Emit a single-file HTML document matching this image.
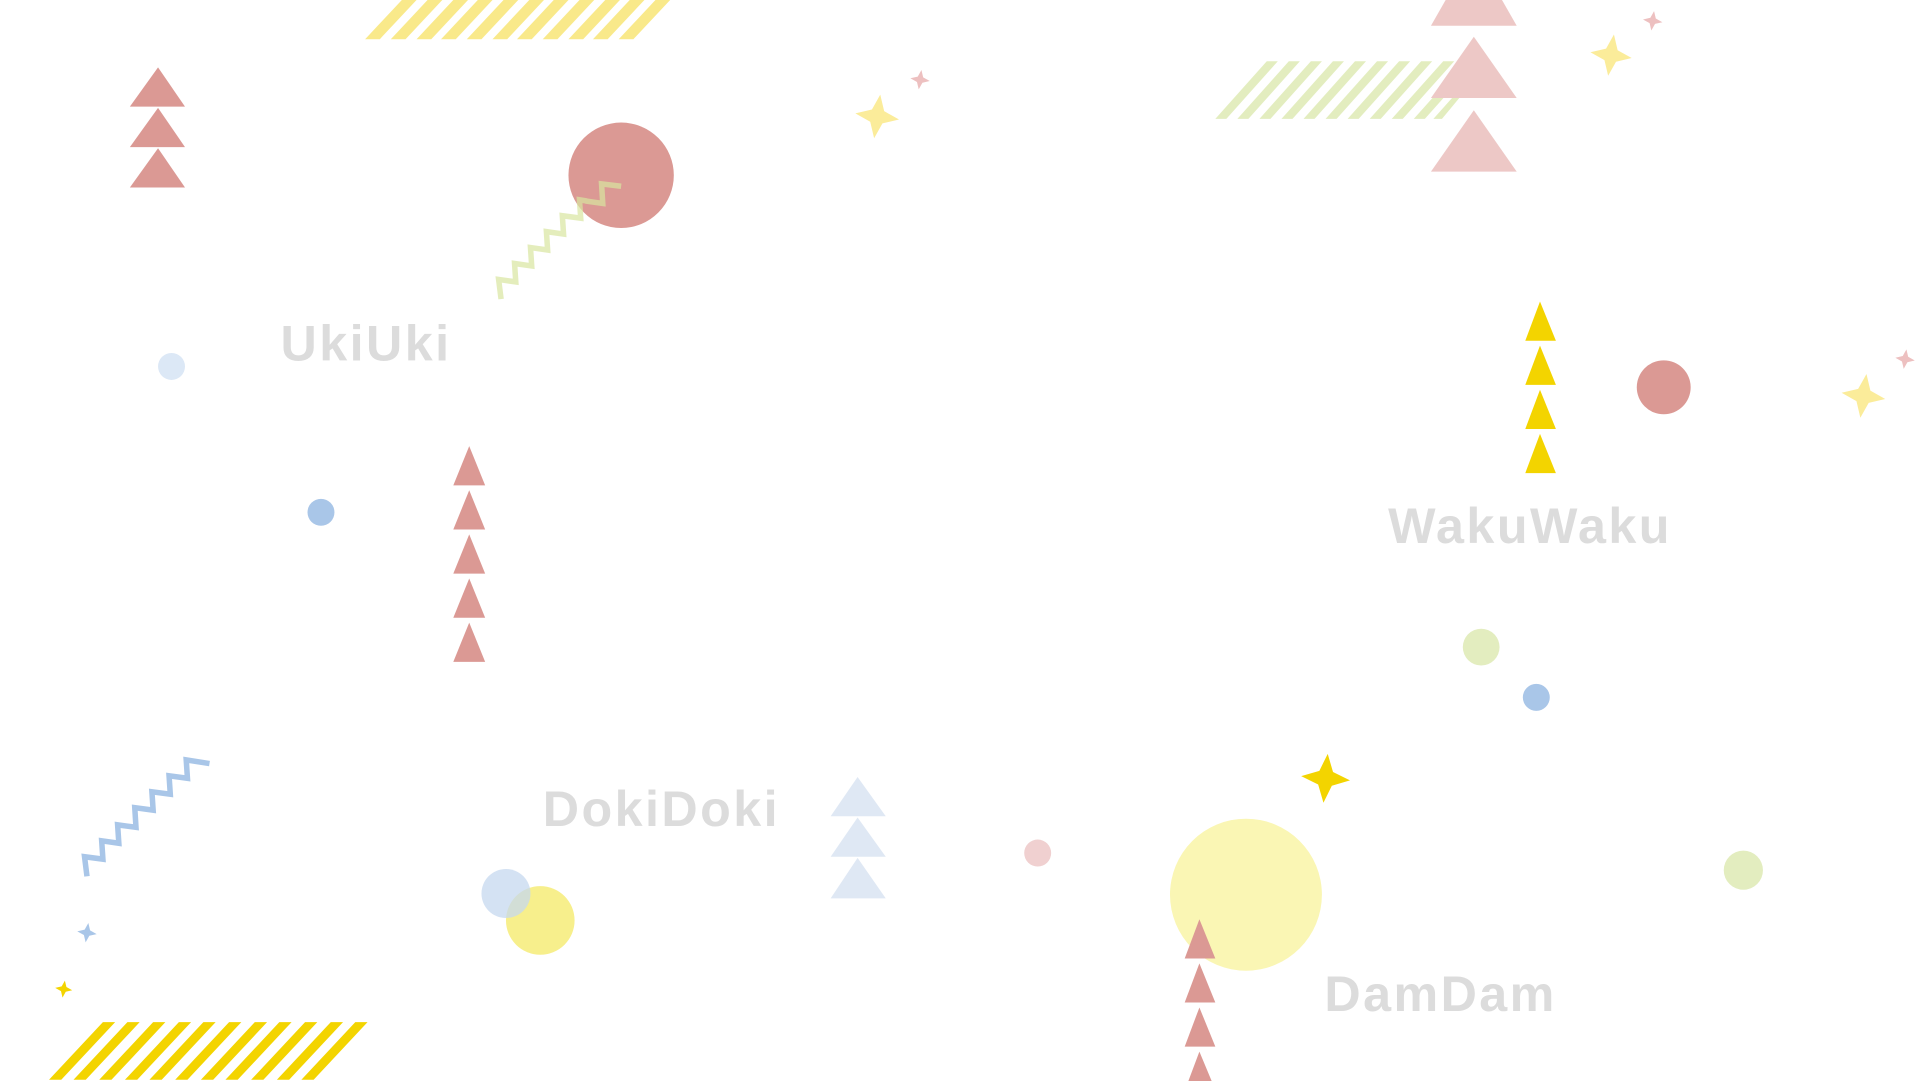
<!DOCTYPE html>
<html><head><meta charset="utf-8"><style>
html,body{margin:0;padding:0;background:#fff;overflow:hidden}
svg{display:block}
text{font-family:"Liberation Sans",sans-serif;font-weight:bold;fill:#dcdcdc;font-size:41px;letter-spacing:2px}
</style></head><body>
<svg width="1921" height="1081" viewBox="0 0 1568 882" preserveAspectRatio="none" xmlns="http://www.w3.org/2000/svg">
<defs>
<path id="st" d="M0,-1 L0.28,-0.28 L1,0 L0.28,0.28 L0,1 L-0.28,0.28 L-1,0 L-0.28,-0.28Z"/>
</defs>
<g fill="#f9e98a">
<path d="M298,32 L328,0 L340,0 L310,32Z"/><path d="M319,32 L349,0 L361,0 L331,32Z"/><path d="M340,32 L370,0 L382,0 L352,32Z"/><path d="M360,32 L390,0 L402,0 L372,32Z"/><path d="M381,32 L411,0 L423,0 L393,32Z"/><path d="M402,32 L432,0 L444,0 L414,32Z"/><path d="M422,32 L452,0 L464,0 L434,32Z"/><path d="M443,32 L473,0 L485,0 L455,32Z"/><path d="M464,32 L494,0 L506,0 L476,32Z"/><path d="M484,32 L514,0 L526,0 L496,32Z"/><path d="M505,32 L535,0 L547,0 L517,32Z"/>
</g>
<g fill="#e3edbf">
<path d="M992,97 L1034,50 L1043,50 L1001,97Z"/><path d="M1010,97 L1052,50 L1061,50 L1019,97Z"/><path d="M1028,97 L1070,50 L1079,50 L1037,97Z"/><path d="M1046,97 L1088,50 L1097,50 L1055,97Z"/><path d="M1064,97 L1106,50 L1115,50 L1073,97Z"/><path d="M1082,97 L1124,50 L1133,50 L1091,97Z"/><path d="M1100,97 L1142,50 L1151,50 L1109,97Z"/><path d="M1118,97 L1160,50 L1169,50 L1127,97Z"/><path d="M1136,97 L1178,50 L1187,50 L1145,97Z"/><path d="M1154,97 L1196,50 L1205,50 L1163,97Z"/><path d="M1170,97 L1212,50 L1216,50 L1177,97Z"/>
</g>
<g fill="#f3d400">
<path d="M40,881 L84,834 L94,834 L50,881Z"/><path d="M60,881 L104,834 L114,834 L70,881Z"/><path d="M81,881 L125,834 L135,834 L91,881Z"/><path d="M102,881 L146,834 L156,834 L112,881Z"/><path d="M122,881 L166,834 L176,834 L132,881Z"/><path d="M143,881 L187,834 L197,834 L153,881Z"/><path d="M164,881 L208,834 L218,834 L174,881Z"/><path d="M184,881 L228,834 L238,834 L194,881Z"/><path d="M205,881 L249,834 L259,834 L215,881Z"/><path d="M226,881 L270,834 L280,834 L236,881Z"/><path d="M246,881 L290,834 L300,834 L256,881Z"/>
</g>
<g fill="#edc8c6">
<path d="M1180,0 L1226,0 L1238,21 L1168,21Z"/>
<path d="M1203,30 L1238,80 L1168,80Z"/>
<path d="M1203,90 L1238,140 L1168,140Z"/>
</g>
<circle cx="1017" cy="730" r="62" fill="#faf6b4"/>
<g fill="#db9994">
<path d="M129,55 L151,87 L106,87Z"/><path d="M129,88 L151,120 L106,120Z"/><path d="M129,121 L151,153 L106,153Z"/>
<path d="M383,364 L396,396 L370,396Z"/><path d="M383,400 L396,432 L370,432Z"/><path d="M383,436 L396,468 L370,468Z"/><path d="M383,472 L396,504 L370,504Z"/><path d="M383,508 L396,540 L370,540Z"/>
<path d="M979,750 L992,782 L967,782Z"/><path d="M979,786 L992,818 L967,818Z"/><path d="M979,822 L992,854 L967,854Z"/><path d="M979,858 L989,882 L970,882Z"/>
<circle cx="507" cy="143" r="43"/>
<circle cx="1358" cy="316" r="22"/>
</g>
<g fill="#f3d400">
<path d="M1257,246 L1270,278 L1245,278Z"/><path d="M1257,282 L1270,314 L1245,314Z"/><path d="M1257,318 L1270,350 L1245,350Z"/><path d="M1257,354 L1270,386 L1245,386Z"/>
</g>
<g fill="#dfe8f4">
<path d="M700,634 L723,666 L678,666Z"/><path d="M700,667 L723,699 L678,699Z"/><path d="M700,700 L723,733 L678,733Z"/>
</g>
<polyline fill="none" stroke="#d8e6a0" stroke-opacity="0.7" stroke-width="4.5" points="409,244 407,228 421,230 420,215 434,217 433,202 447,204 446,189 460,191 459,176 474,178 473,163 479,164 478,164 492,166 491,150 507,152"/>
<polyline fill="none" stroke="#a9c6e8" stroke-width="4.5" points="71,715 69,699 84,701 83,686 97,688 96,673 111,675 110,659 125,661 124,646 139,648 138,633 153,635 152,620 171,623"/>
<circle cx="140" cy="299" r="11" fill="#dce8f6"/>
<circle cx="262" cy="418" r="11" fill="#a9c6e8"/>
<circle cx="1209" cy="528" r="15" fill="#e3edbf"/>
<circle cx="1254" cy="569" r="11" fill="#a9c6e8"/>
<circle cx="847" cy="696" r="11" fill="#f0d0d0"/>
<circle cx="1423" cy="710" r="16" fill="#e3edbf"/>
<circle cx="441" cy="751" r="28" fill="#f7ef8c"/>
<circle cx="413" cy="729" r="20" fill="#c6d8ef" fill-opacity="0.75"/>
<use href="#st" transform="translate(716,95) rotate(8) scale(18)" fill="#fbec9a"/>
<use href="#st" transform="translate(751,65) rotate(8) scale(8)" fill="#edc0c0"/>
<use href="#st" transform="translate(1315,45) rotate(8) scale(17)" fill="#fbec9a"/>
<use href="#st" transform="translate(1349,17) rotate(8) scale(8)" fill="#edc0c0"/>
<use href="#st" transform="translate(1555,293) rotate(8) scale(8)" fill="#edc0c0"/>
<use href="#st" transform="translate(1521,323) rotate(8) scale(18)" fill="#fbec9a"/>
<use href="#st" transform="translate(1082,635) rotate(5) scale(20)" fill="#f3d400"/>
<use href="#st" transform="translate(71,761) rotate(8) scale(8)" fill="#a9c6e8"/>
<use href="#st" transform="translate(52,807) rotate(8) scale(7)" fill="#f3d400"/>
<text x="229" y="294">UkiUki</text>
<text x="1133" y="443">WakuWaku</text>
<text x="443" y="674">DokiDoki</text>
<text x="1081" y="825">DamDam</text>
</svg>
</body></html>
